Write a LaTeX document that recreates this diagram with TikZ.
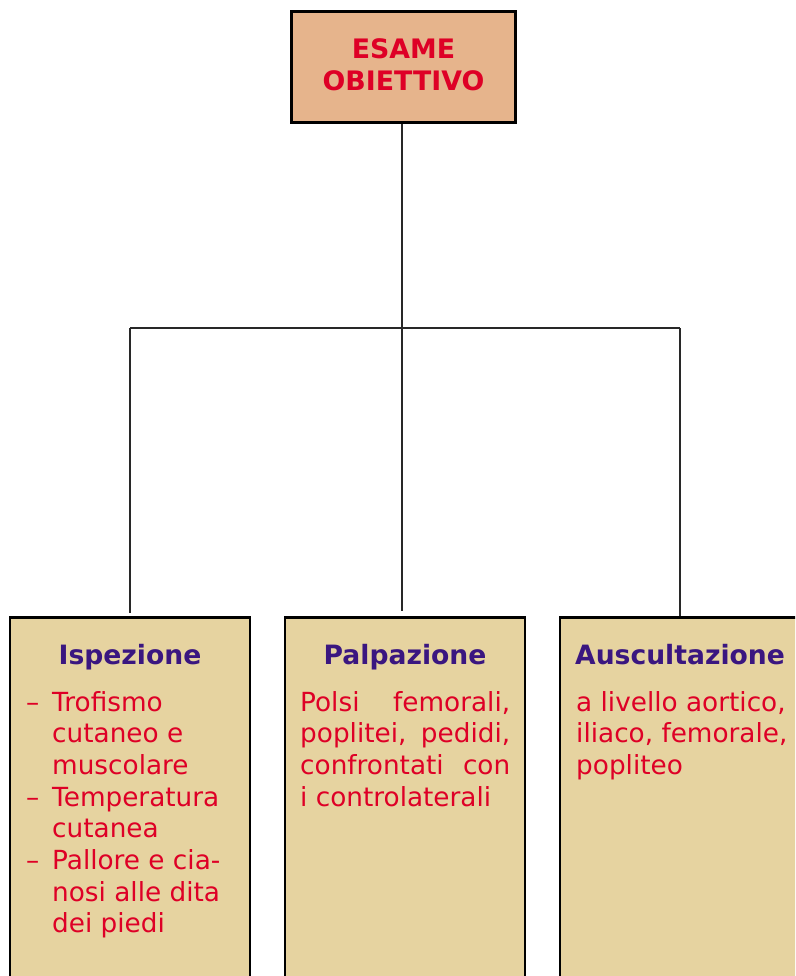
\documentclass[tikz,border=0pt]{standalone}
\usepackage{fontspec}
\setmainfont{DejaVu Sans}
\definecolor{topfill}{RGB}{230,180,140}
\definecolor{boxfill}{RGB}{230,211,160}
\definecolor{txtred}{RGB}{222,0,38}
\definecolor{hdpurple}{RGB}{58,22,128}
\definecolor{linegray}{RGB}{40,40,40}
\begin{document}
\begin{tikzpicture}[x=1pt,y=-1pt,
  topbox/.style={draw=black,line width=2.6pt,fill=topfill,rectangle,inner sep=0pt,
    minimum width=224pt,minimum height=111pt},
  itembox/.style={draw=black,line width=2.6pt,fill=boxfill,rectangle,inner sep=0pt,
    minimum width=240pt,minimum height=400pt},
  conn/.style={draw=linegray,line width=1.2pt},
  title/.style={text=txtred,font=\fontsize{26.8}{32}\selectfont\bfseries,align=center,inner sep=0pt},
  head/.style={text=hdpurple,font=\fontsize{26.6}{30}\selectfont\bfseries,inner sep=0pt,anchor=base},
  body/.style={text=txtred,font=\fontsize{26.3}{31.7}\selectfont,inner sep=0pt,anchor=base west}]
\useasboundingbox (0,0) rectangle (795,976);
\clip (0,0) rectangle (795,976);

% root box
\node[topbox] (root) at (403.5,67) {};
\node[title] (roottxt) at (403.5,65) {ESAME\\OBIETTIVO};

% three branch boxes
\node[itembox,anchor=north] (isp) at (130,616) {};
\node[itembox,anchor=north] (pal) at (405,616) {};
\node[itembox,anchor=north] (aus) at (680,616) {};

% tree connectors
\coordinate (jL) at (130,328);
\coordinate (jM) at (402,328);
\coordinate (jR) at (680,328);
\draw[conn] (root.south -| jM) -- (jM);
\draw[conn] (jL) -- (jR);
\draw[conn] (jL) -- ([yshift=3pt]jL |- isp.north);
\draw[conn] (jM) -- ([yshift=5pt]jM |- pal.north);
\draw[conn] (jR) -- (jR |- aus.north);

% headings
\node[head] (ispH) at (130,664) {Ispezione};
\node[head] (palH) at (405,664) {Palpazione};
\node[head] (ausH) at (680,664) {Auscultazione};

% Ispezione list: bullets and item text
\node[body] (ispD) at (26,711) {\parbox[t]{30pt}{–\\\mbox{}\\\mbox{}\\–\\\mbox{}\\–}};
\node[body] (ispT) at (52,711) {\parbox[t]{200pt}{Trofismo\\cutaneo e\\muscolare\\Temperatura\\cutanea\\Pallore e cia-\\nosi alle dita\\dei piedi}};

% Palpazione text, justified lines
\node[body] (palT) at (300,711) {\parbox[t]{210pt}{%
  \makebox[210pt][s]{Polsi femorali,}\\
  \makebox[210pt][s]{poplitei, pedidi,}\\
  \makebox[210pt][s]{confrontati con}\\
  i controlaterali}};

% Auscultazione text
\node[body] (ausT) at (576,711) {\parbox[t]{220pt}{a livello aortico,\\iliaco, femorale,\\popliteo}};
\end{tikzpicture}
\end{document}
